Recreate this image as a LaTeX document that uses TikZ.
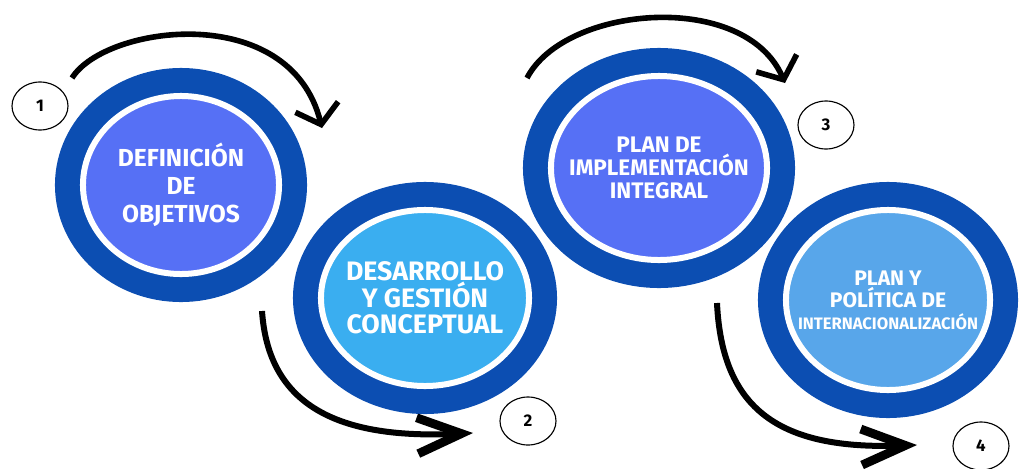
\documentclass[tikz,border=0pt]{standalone}
\usepackage{fontspec}
\setmainfont{Fira Sans}
\usetikzlibrary{arrows.meta,shapes.geometric}
\definecolor{ringblue}{RGB}{12,78,178}
\definecolor{stepviolet}{RGB}{86,112,245}
\definecolor{stepsky}{RGB}{58,174,240}
\definecolor{stepsoft}{RGB}{88,166,234}
\tikzstyle{stepring}=[ellipse,inner sep=0pt,draw=white,line width=0.15cm,preaction={draw=ringblue,line width=1.4cm}]
\tikzstyle{steptext}=[text=white,align=center]
\tikzstyle{badge}=[ellipse,draw=black,fill=white,line width=0.8pt,minimum width=1.4cm,minimum height=1.2cm,inner sep=0pt,font=\fontsize{12}{14}\selectfont\bfseries]
\tikzstyle{flow}=[draw,line width=0.14cm,-{Straight Barb[length=0.45cm,width=1.1cm]}]
\tikzstyle{bigflow}=[draw,line width=0.15cm,-{Straight Barb[length=1.1cm,width=0.9cm,line width=0.22cm]}]

\begin{document}
\begin{tikzpicture}[x=0.025cm,y=-0.025cm]

    \useasboundingbox (0,0) rectangle (1020,468);

    % the four steps
    \foreach \x/\y/\w/\h/\col/\name in {181/185/4.9/4.45/stepviolet/c1, 425/298/5.2/4.4/stepsky/c2,
                                         659/168/5.4/4.6/stepviolet/c3, 888/300/5.1/4.5/stepsoft/c4}
        \node[stepring, fill=\col, minimum width=\w cm, minimum height=\h cm] (\name) at (\x,\y) {};

    \foreach \name/\size/\lead/\txt in {c1/17.5/20/{DEFINICIÓN\\DE\\OBJETIVOS},
                                        c2/19/19/{DESARROLLO\\Y GESTIÓN\\CONCEPTUAL},
                                        c3/16/16.5/{PLAN DE\\IMPLEMENTACIÓN\\INTEGRAL},
                                        c4/15/15.6/{PLAN Y\\POLÍTICA DE\\{\fontsize{11.8}{13}\selectfont INTERNACIONALIZACIÓN}}}
        \node[steptext, font=\fontsize{\size}{\lead}\selectfont\bfseries] (t\name) at (\name) {\txt};

    % numbers
    \foreach \x/\y/\num in {40/106/1, 528/421/2, 826/125/3, 981/446/4}
        \node[badge] (n\num) at (\x,\y) {\num};

    % arrows
    \coordinate (a1s) at (72,78);   \coordinate (a1e) at (322,128);
    \coordinate (a2s) at (262,311); \coordinate (a2e) at (473,433);
    \coordinate (a3s) at (527,78);  \coordinate (a3e) at (785,83);
    \coordinate (a4s) at (717,303); \coordinate (a4e) at (917,445);

    \path[flow] (a1s) .. controls (105,25) and (290,0) .. (a1e);
    \path[flow] (a3s) .. controls (565,5) and (745,-10) .. (a3e);
    \path[bigflow] (a2s) .. controls (268,400) and (330,440) .. (a2e);
    \path[bigflow] (a4s) .. controls (722,410) and (780,450) .. (a4e);

\end{tikzpicture}
\end{document}
